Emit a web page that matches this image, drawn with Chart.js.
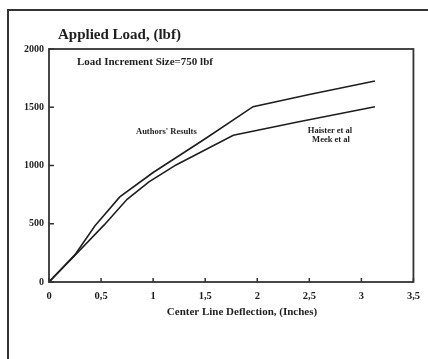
<!DOCTYPE html>
<html>
<head>
<meta charset="utf-8">
<script src="https://cdn.jsdelivr.net/npm/chart.js@4"></script>
<style>
  html, body { margin: 0; padding: 0; background: #fff; }
  #wrap { width: 428px; height: 359px; position: relative; }
</style>
</head>
<body>
<div id="wrap"><canvas id="loadChart"></canvas></div>
<script>
// Data
const authorsDeflection = [0, 0.25, 0.44, 0.68, 1.0, 1.5, 1.96, 2.5, 3.13];
const authorsLoad = [0, 235, 480, 730, 940, 1230, 1505, 1610, 1725];
const haisterDeflection = [0, 0.25, 0.53, 0.75, 0.96, 1.22, 1.77, 2.4, 3.13];
const haisterLoad = [0, 230, 490, 710, 860, 1005, 1260, 1375, 1505];
const xTickStep = 0.5;
const yTickStep = 500;

const ink = "#1e1e1e";
const serif = "'Liberation Serif', 'DejaVu Serif', serif";

function toPoints(xs, ys) {
  return xs.map((x, i) => ({ x: x, y: ys[i] }));
}

// frame, plot box, inward ticks and the free text
const decorations = {
  id: "decorations",
  afterDraw(chart) {
    const c = chart.ctx;
    const a = chart.chartArea;
    const xs = chart.scales.x;
    const ys = chart.scales.y;
    c.save();
    c.strokeStyle = "#333";
    c.lineWidth = 2;
    c.beginPath();
    c.moveTo(8, 362);
    c.lineTo(8, 10);
    c.lineTo(430, 10);
    c.stroke();

    c.lineWidth = 1.8;
    c.strokeRect(a.left, a.top, a.right - a.left, a.bottom - a.top);

    c.lineWidth = 1.5;
    c.beginPath();
    xs.ticks.forEach(t => {
      const px = xs.getPixelForValue(t.value);
      c.moveTo(px, a.bottom);
      c.lineTo(px, a.bottom - 4);
    });
    ys.ticks.forEach(t => {
      const py = ys.getPixelForValue(t.value);
      c.moveTo(a.left, py);
      c.lineTo(a.left + 5, py);
    });
    c.stroke();

    c.fillStyle = ink;
    c.textBaseline = "middle";
    c.textAlign = "left";
    c.font = "bold 15px " + serif;
    c.fillText("Applied Load, (lbf)", 58, 35);
    c.font = "bold 11px " + serif;
    c.fillText("Load Increment Size=750 lbf", 77, 62);
    c.font = "bold 8.5px " + serif;
    c.fillText("Authors' Results", 136, 132);
    c.textAlign = "center";
    c.fillText("Haister et al", 330, 131);
    c.fillText("Meek et al", 331, 140);
    c.font = "bold 11px " + serif;
    c.fillText("Center Line Deflection, (Inches)", 242, 312);
    c.restore();
  }
};

new Chart(document.getElementById("loadChart"), {
  type: "scatter",
  data: {
    datasets: [
      {
        label: "Authors' Results",
        data: toPoints(authorsDeflection, authorsLoad),
        showLine: true,
        borderColor: ink,
        borderWidth: 1.6,
        pointRadius: 0,
        tension: 0
      },
      {
        label: "Haister et al / Meek et al",
        data: toPoints(haisterDeflection, haisterLoad),
        showLine: true,
        borderColor: ink,
        borderWidth: 1.6,
        pointRadius: 0,
        tension: 0
      }
    ]
  },
  options: {
    responsive: true,
    maintainAspectRatio: false,
    animation: false,
    layout: { padding: { top: 49, right: 12, bottom: 0, left: 0 } },
    plugins: {
      legend: { display: false },
      tooltip: { enabled: false }
    },
    scales: {
      x: {
        type: "linear",
        min: 0,
        max: 3.5,
        afterFit(scale) { scale.height = 77; },
        grid: { drawOnChartArea: false, drawTicks: false },
        border: { display: false },
        ticks: {
          stepSize: xTickStep,
          padding: 8,
          color: ink,
          font: { family: serif, weight: "bold", size: 10.5 },
          callback: v => String(v).replace(".", ",")
        }
      },
      y: {
        min: 0,
        max: 2000,
        afterFit(scale) { scale.width = 49; },
        grid: { drawOnChartArea: false, drawTicks: false },
        border: { display: false },
        ticks: {
          stepSize: yTickStep,
          padding: 5,
          color: ink,
          font: { family: serif, weight: "bold", size: 10 },
          callback: v => String(v)
        }
      }
    }
  },
  plugins: [decorations]
});
</script>
</body>
</html>
